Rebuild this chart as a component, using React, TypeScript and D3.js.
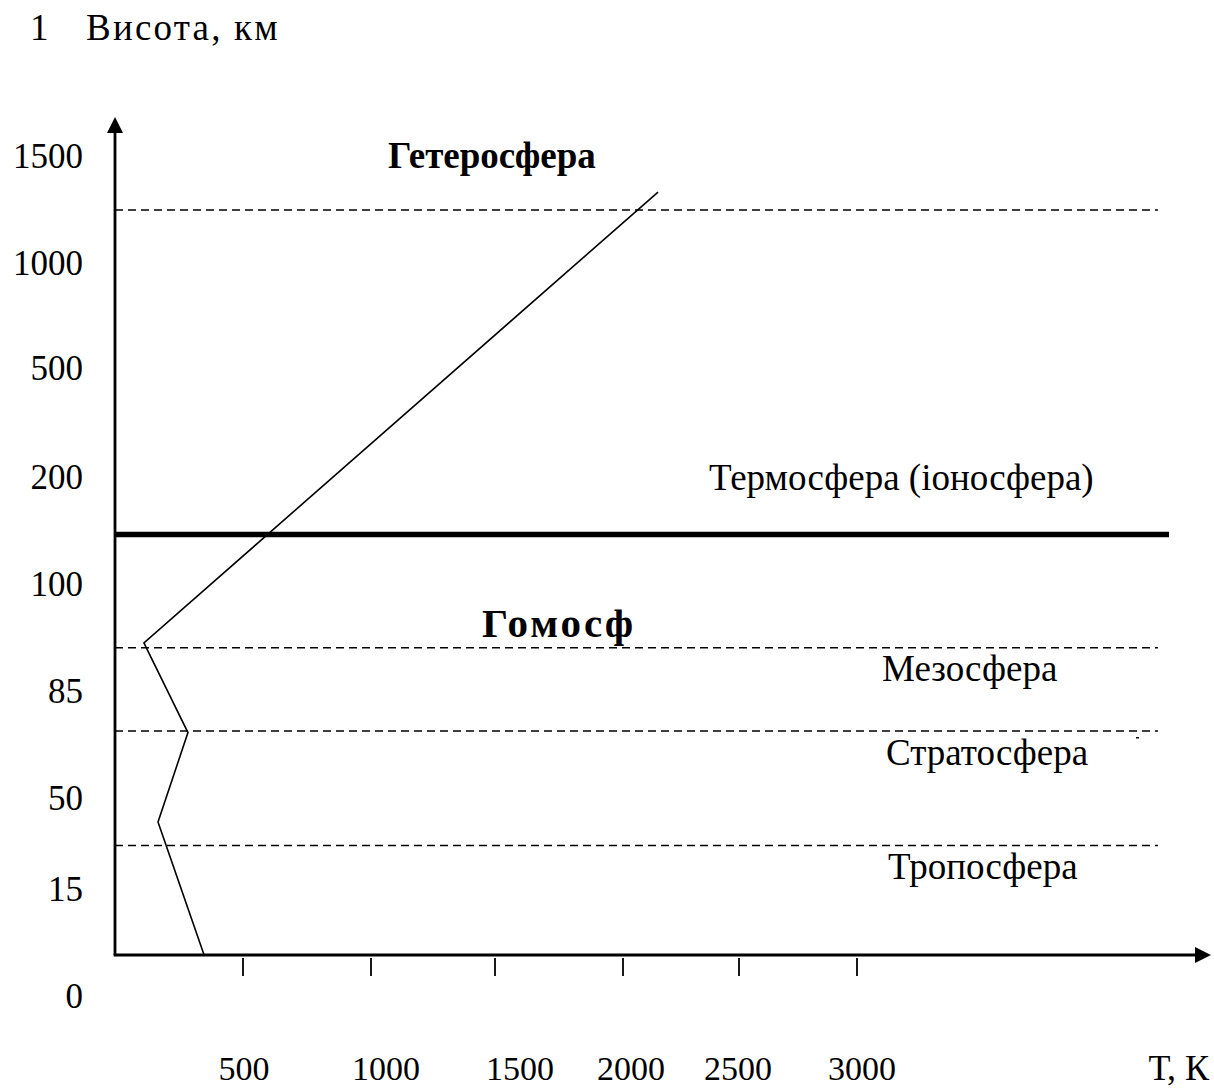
import React, { useEffect, useRef } from "react";
import * as d3 from "d3";

// altitude tick labels (km) and temperature ticks (K)
const altTicks = [1500, 1000, 500, 200, 100, 85, 50, 15, 0];
const tempTicks = [500, 1000, 1500, 2000, 2500, 3000];

// temperature profile: altitude km, temperature K
const profileAlt = [0, 25, 58, 86, 1140];
const profileTemp = [348, 168, 285, 113, 2151];

// layer boundaries (km)
const dashedLevels = [16, 58.5, 85.3, 1056];
const homopause = 108;

const layerNames = ["Тропосфера", "Стратосфера", "Мезосфера", "Термосфера (іоносфера)"];

const W = 1214;
const H = 1088;
const FONT = "'Liberation Serif', 'Times New Roman', serif";

export default function App() {
  const ref = useRef<SVGSVGElement>(null);

  useEffect(() => {
    document.body.style.margin = "0";
    const svg = d3.select(ref.current);
    svg.selectAll("*").remove();

    // non-uniform axes, as drawn in the original
    const y = d3.scaleLinear()
      .domain(altTicks)
      .range([115, 222, 327, 436, 543, 650, 757, 848, 955]);
    const x = d3.scaleLinear()
      .domain([0, ...tempTicks])
      .range([115, 243, 371, 495, 623, 739, 857]);
    // labels under x ticks are shifted a bit in the source
    const xLabel = d3.scaleOrdinal<number, number>()
      .domain(tempTicks)
      .range([244, 386, 520, 631, 738, 862]);

    const x0 = x(0), y0 = y(0);
    const g = svg.append("g").style("font-family", FONT).attr("fill", "#000");

    // title
    g.append("text").attr("x", 30).attr("y", 40).style("font-size", "37px").text("1");
    g.append("text").attr("x", 86).attr("y", 40).style("font-size", "37px")
      .style("letter-spacing", "2.2px").text("Висота, км");

    // dashed boundaries
    g.selectAll(".dash").data(dashedLevels).enter().append("line")
      .attr("x1", x0).attr("x2", 1158)
      .attr("y1", d => y(d)).attr("y2", d => y(d))
      .attr("stroke", "#000").attr("stroke-width", 1.5)
      .attr("stroke-dasharray", "8,5");

    // thick homopause line
    g.append("line")
      .attr("x1", x0).attr("x2", 1169)
      .attr("y1", y(homopause)).attr("y2", y(homopause))
      .attr("stroke", "#000").attr("stroke-width", 5.5);

    // temperature profile
    const pts = profileAlt.map((a, i) => [profileTemp[i], a] as [number, number]);
    g.append("path")
      .attr("d", d3.line<[number, number]>().x(d => x(d[0])).y(d => y(d[1]))(pts))
      .attr("fill", "none").attr("stroke", "#000").attr("stroke-width", 1.6);

    // axes
    g.append("line").attr("x1", x0).attr("x2", x0).attr("y1", y0).attr("y2", 130)
      .attr("stroke", "#000").attr("stroke-width", 2.8);
    g.append("path").attr("d", `M${x0},117 L${x0 - 8},133 L${x0 + 8},133 Z`);
    g.append("line").attr("x1", x0 - 1.4).attr("x2", 1197).attr("y1", y0).attr("y2", y0)
      .attr("stroke", "#000").attr("stroke-width", 2.8);
    g.append("path").attr("d", `M1211,${y0} L1195,${y0 - 8} L1195,${y0 + 8} Z`);

    // x ticks and labels
    g.selectAll(".tick").data(tempTicks).enter().append("line")
      .attr("x1", d => x(d)).attr("x2", d => x(d))
      .attr("y1", y0 + 3).attr("y2", y0 + 21)
      .attr("stroke", "#000").attr("stroke-width", 1.8);
    g.selectAll(".xl").data(tempTicks).enter().append("text")
      .attr("x", d => xLabel(d)).attr("y", 1080)
      .attr("text-anchor", "middle").style("font-size", "34px")
      .text(d => d);
    g.append("text").attr("x", 1209).attr("y", 1080).attr("text-anchor", "end")
      .style("font-size", "36px").text("Т, К");

    // y labels (sit ~53px below their levels in the source)
    g.selectAll(".yl").data(altTicks).enter().append("text")
      .attr("x", 83).attr("y", d => y(d) + 53)
      .attr("text-anchor", "end").style("font-size", "35px")
      .text(d => d);

    // layer names
    const namePos = [[888, 879], [886, 765], [882, 681], [709, 490]];
    g.selectAll(".ln").data(layerNames).enter().append("text")
      .attr("x", (d, i) => namePos[i][0]).attr("y", (d, i) => namePos[i][1])
      .style("font-size", "37px").text(d => d);
    g.append("rect").attr("x", 1136).attr("y", 737).attr("width", 3).attr("height", 1.5);

    g.append("text").attr("x", 388).attr("y", 168)
      .style("font-size", "37px").style("font-weight", "bold").text("Гетеросфера");
    g.append("text").attr("x", 482).attr("y", 637)
      .style("font-size", "41px").style("font-weight", "bold")
      .style("letter-spacing", "3px").text("Гомосф");
  }, []);

  return (
    <svg ref={ref} width={W} height={H}
      style={{ display: "block", background: "#fff" }} />
  );
}
